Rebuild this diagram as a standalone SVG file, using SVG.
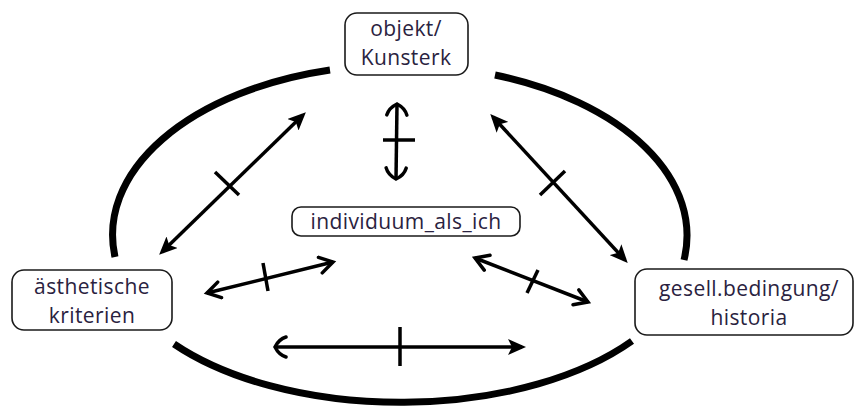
<svg xmlns="http://www.w3.org/2000/svg" width="856" height="410" viewBox="0 0 856 410">
<style>
.box{fill:#fff;stroke:#1a1a1a;stroke-width:1.6}
.lbl{font-family:"Open Sans","Liberation Sans",sans-serif;font-size:21px;fill:#2a2240;text-anchor:middle;letter-spacing:0.4px}
.arc{fill:none;stroke:#000;stroke-width:7}
.con{fill:none;stroke:#000;stroke-width:3.5}
.tick{fill:none;stroke:#000;stroke-width:3.5}
</style>
<defs>
<marker id="filled" markerUnits="userSpaceOnUse" viewBox="0 0 18 16" markerWidth="18" markerHeight="16" refX="14" refY="8" orient="auto-start-reverse">
<path d="M0,0 L18,8 L0,16 L4,8 z" fill="#000"/>
</marker>
<marker id="open" markerUnits="userSpaceOnUse" viewBox="0 0 20 20" markerWidth="20" markerHeight="20" refX="16" refY="10" orient="auto-start-reverse">
<path d="M3,2 L16,10 L3,18" fill="none" stroke="#000" stroke-width="3.5" stroke-linecap="round"/>
</marker>
<marker id="curved" markerUnits="userSpaceOnUse" viewBox="0 0 20 24" markerWidth="20" markerHeight="24" refX="15" refY="12" orient="auto-start-reverse">
<path d="M4,2 Q11,4 15,12 Q11,20 4,22" fill="none" stroke="#000" stroke-width="3.5" stroke-linecap="round"/>
</marker>
</defs>
<rect width="856" height="410" fill="#fff"/>
<g id="frame">
<path class="arc" d="M115,257 A287,170 0 0 1 330,70"/>
<path class="arc" d="M495,75 A287,170 0 0 1 684,260"/>
<path class="arc" d="M174,344 A288,152 0 0 0 632,341"/>
</g>
<g id="connectors">
<path class="con" d="M162,252 L303,115" marker-start="url(#filled)" marker-end="url(#filled)"/>
<path class="tick" d="M215,172 L239,195"/>
<path class="con" d="M493,117 L625,260" marker-start="url(#filled)" marker-end="url(#filled)"/>
<path class="tick" d="M565,171 L540,195"/>
<path class="con" d="M397,104 L396,179" marker-start="url(#curved)" marker-end="url(#curved)"/>
<path class="tick" d="M383,140 L415,140"/>
<path class="con" d="M207,293 L333,262" marker-start="url(#open)" marker-end="url(#open)"/>
<path class="tick" d="M263,263 L268,291"/>
<path class="con" d="M475,258 L588,302" marker-start="url(#open)" marker-end="url(#open)"/>
<path class="tick" d="M538,270 L527,293"/>
<path class="con" d="M275,347 L522,347" marker-start="url(#curved)" marker-end="url(#filled)"/>
<path class="tick" d="M400,327 L400,366"/>
</g>
<g id="node-objekt">
<rect class="box" x="345" y="13" width="123" height="62" rx="12"/>
<text class="lbl" x="406" y="36">objekt/</text>
<text class="lbl" x="406" y="65">Kunsterk</text>
</g>
<g id="node-individuum">
<rect class="box" x="292" y="207" width="228" height="29" rx="9"/>
<text class="lbl" x="406" y="229">individuum_als_ich</text>
</g>
<g id="node-aesthetische">
<rect class="box" x="12" y="270" width="160" height="60" rx="12"/>
<text class="lbl" x="92" y="294">ästhetische</text>
<text class="lbl" x="92" y="323">kriterien</text>
</g>
<g id="node-gesell">
<rect class="box" x="635" y="269" width="218" height="66" rx="12"/>
<text class="lbl" x="749" y="296">gesell.bedingung/</text>
<text class="lbl" x="749" y="325">historia</text>
</g>
</svg>
